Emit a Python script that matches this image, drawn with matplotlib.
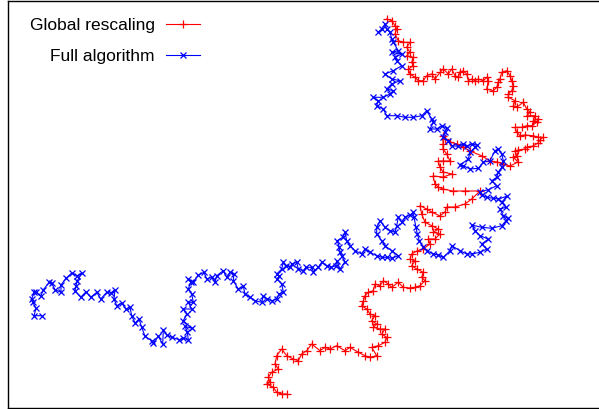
import matplotlib
matplotlib.use('Agg')
import matplotlib.pyplot as plt
import numpy as np

# Chain conformations (y grows downward)
rescaling_label = 'Global rescaling'
full_label = 'Full algorithm'

red_pts = [
    (386.7, 20), (391.7, 21.7), (395, 26.7), (396.7, 30), (395, 35), (398.3, 41.7),
    (403.3, 43.3), (410, 43.3), (406.7, 48.3), (410, 53.3), (406.7, 56.7), (413.3, 58.3),
    (411.7, 63.3), (413.3, 66.7), (408.3, 70), (410, 75), (415, 78.3), (418.3, 81.7),
    (423.3, 81.7), (426.7, 76.7), (431.7, 75), (435, 80), (440, 73.3), (443.3, 70),
    (448.3, 75), (451.7, 70), (455, 76.7), (458.3, 78.3), (460, 73.3), (463.3, 71.7),
    (466.7, 75), (468.3, 81.7), (471.7, 80), (475, 81.7), (478.3, 80), (483.3, 81.7),
    (486.7, 78.3), (488.3, 81.7), (486.7, 90), (493.3, 91.7), (496.7, 88.3), (498.3, 83.3),
    (500, 80), (501.7, 73.3), (506.7, 71.7), (510, 76.7), (511.7, 81.7), (513.3, 86.7),
    (511.7, 91.7), (508.3, 95), (508.3, 98.3), (515, 101.7), (513.3, 106.7), (516.7, 108.3),
    (523.3, 103.3), (526.7, 110), (530, 113.3), (526.7, 116.7), (535, 116.7), (533.3, 121.7),
    (538.3, 120), (536.7, 123.3), (531.7, 126.7), (526.7, 126.7), (521.7, 128.3), (515, 128.3),
    (516.7, 133.3), (520, 136.7), (525, 136), (533.3, 136.7), (538.3, 138.3), (542.7, 138.3),
    (540, 141), (538, 144), (533, 147), (527, 148), (525, 150), (518, 151),
    (515, 152), (517, 157), (513, 158), (518, 163), (510, 167), (503, 165),
    (497, 163), (490, 162), (482, 157), (470, 152), (463, 148), (457, 145),
    (450, 143), (445, 140), (443, 137), (443, 145), (443, 150), (446.7, 155),
    (450, 162), (443, 162), (438, 162), (440, 168), (443, 173), (452, 175),
    (443, 178), (433, 177), (435, 185), (438, 188), (443, 190), (453, 192),
    (465, 192), (480, 192), (471.7, 200), (465, 205), (455, 208), (446.7, 208),
    (445, 213), (440, 217), (431.7, 213), (426.7, 210), (420, 206.7), (421.7, 215),
    (425, 223.3), (431.7, 226.7), (438.3, 230), (433.3, 233.3), (440, 235), (435, 240),
    (428.3, 240), (430, 245), (423, 250), (416.7, 252), (411.7, 255), (410, 260),
    (415, 262), (411.7, 266.7), (416.7, 270), (423.3, 273.3), (421.7, 278.3), (425, 281.7),
    (420, 286.7), (415, 288.3), (410, 289), (403.3, 288.3), (398.3, 283.3), (391.7, 288.3),
    (388.3, 285), (383.3, 281.7), (380, 286.7), (375, 285), (373.3, 291.7), (368.3, 293.3),
    (365, 296.7), (363.3, 301.7), (361.7, 306.7), (366.7, 310), (370, 315), (375, 316.7),
    (371.7, 321.7), (376.7, 325), (373.3, 328.3), (380, 330), (385, 330), (381.7, 335),
    (386.7, 338.3), (385, 343.3), (378.3, 346.7), (371.7, 348.3), (376.7, 356.7), (370, 358.3),
    (365, 356.7), (358.3, 353.3), (350, 348.3), (345, 351.7), (336.7, 346.7), (330, 350),
    (325, 348.3), (320, 351.7), (311.7, 345), (306.7, 351.7), (301.7, 355), (298.3, 361.7),
    (293.3, 360), (286.7, 356.7), (281.7, 350), (276.7, 356.7), (275, 365), (278.3, 370),
    (271.7, 373.3), (268.3, 378.3), (270, 383.3), (266.7, 385), (273.3, 388.3), (276.7, 393.3),
    (281.7, 395), (286.7, 395),
]

blue_pts = [
    (41.7, 316.7), (34, 316.7), (36, 309.3), (32.7, 303.3), (31.7, 300), (34, 293.3),
    (36, 292.7), (40.7, 297.3), (43.3, 290.7), (49.3, 283.3), (51.7, 284.3), (55, 290.7),
    (61, 293.3), (61, 286), (66, 279.3), (71.7, 274), (77.3, 276.7), (81.7, 274),
    (77.3, 281.7), (76, 286.7), (75, 291.7), (80.7, 298.3), (86, 292.7), (90.7, 298.3),
    (96.7, 293.3), (100.7, 300), (106.7, 293.3), (110.7, 294), (115, 290.7), (114, 300),
    (116.7, 306.7), (121.7, 304), (126, 310), (130, 308.3), (131.7, 316.7), (135, 324),
    (139, 320), (141.7, 328.3), (145, 337.3), (151.7, 341.7), (153.3, 344), (158.3, 337.3),
    (162.7, 345), (163.3, 330.7), (166.7, 336), (171.7, 338.3), (179.3, 340.7), (183.3, 339.3),
    (188.3, 340.7), (187.3, 332.7), (185, 327.3), (191.7, 329.3), (183.3, 321.7), (186.7, 315),
    (183.3, 310), (191.7, 310), (188.3, 303.3), (193.3, 303.3), (191.7, 295), (188.3, 290),
    (190.7, 283.3), (188.3, 280), (193.3, 283.3), (198.3, 276), (204, 273.3), (206.7, 280),
    (211.7, 278.3), (215, 283.3), (216.7, 276.7), (223.3, 271.7), (226.7, 278.3), (230, 273.3),
    (234, 275), (233.3, 281.7), (238.3, 290), (243.3, 287.3), (245, 295), (250, 298.3),
    (255, 301.7), (261.7, 303.3), (263.3, 297.3), (267.3, 300), (271.7, 301.7), (276.7, 300),
    (279.3, 295), (283.3, 292.7), (281.7, 285), (277.3, 280), (279.3, 277.3), (276.7, 275),
    (281.7, 270), (283.3, 263.3), (286, 266.7), (290, 268.3), (291.7, 265), (296.7, 263.3),
    (298.3, 270), (303.3, 271.7), (306, 268.3), (311.7, 268.3), (313.3, 272.7), (318.3, 268.3),
    (321.7, 263.3), (326.7, 266.7), (330.7, 268.3), (336, 266.7), (336.7, 261.7), (340, 270),
    (345, 262.7), (341.7, 257.3), (340, 253.3), (339.3, 248.3), (337.3, 241.7), (342.7, 238.3),
    (345, 233.3), (346.7, 241.7), (350, 246.7), (355, 251.7), (361.7, 255), (365, 250),
    (370, 253.3), (376.7, 256.7), (381.7, 258.3), (386.7, 258.3), (391.7, 259.3), (398.3, 256.7),
    (391.7, 251.7), (385, 246.7), (381.7, 241.7), (376.7, 235), (376.7, 228.3), (380, 221.7),
    (385, 228.3), (390, 231.7), (395, 233.3), (396.7, 226.7), (398.3, 218.3), (401.7, 223.3),
    (405, 218.3), (410, 216), (413.3, 213.3), (414, 218.3), (416, 228.3), (417.3, 235),
    (419.3, 241.7), (423.3, 248.3), (427.3, 251.7), (433.3, 255), (438, 256), (443.3, 258.3),
    (450, 251.7), (451.7, 246.7), (460, 251.7), (466.7, 255), (471.7, 255), (480, 253.3),
    (486.7, 250), (481.7, 245), (488.3, 240), (480, 236.7), (475, 231.7), (471.7, 226),
    (481.7, 228.3), (491.7, 229.3), (501.7, 226.7), (506, 221.7), (508.3, 219.3), (503.3, 216.7),
    (500, 210), (506, 208.3), (501.7, 203.3), (506.7, 197.3), (498.3, 200), (493.3, 199.3),
    (486.7, 198.3), (481.7, 196), (480, 192.7), (488.3, 190.7), (496.7, 186.7), (491.7, 181.7),
    (496.7, 178.3), (498.3, 173.3), (501.7, 168.3), (503.3, 161.7), (501.7, 155), (498.3, 150),
    (495, 151.7), (490, 161.7), (483.3, 163.3), (478.3, 169.3), (470, 170), (463.3, 166.7),
    (460, 166), (468.3, 160), (470, 153.3), (475, 148.3), (476.7, 146), (471.7, 145),
    (466.7, 147.3), (463.3, 145), (458.3, 147.3), (451.7, 146.7), (448.3, 141.7), (443.3, 138.3),
    (445, 133.3), (446.7, 129.3), (441.7, 126.7), (436.7, 130), (430, 130), (433.3, 123.3),
    (431.7, 120), (426.7, 111.7), (421.7, 116.7), (413.3, 118.3), (405, 118.3), (396.7, 116.7),
    (386.7, 116.7), (383.3, 110), (376.7, 106.7), (378.3, 101.7), (373.3, 98.3), (383.3, 98.3),
    (390, 95), (393.3, 91.7), (386.7, 90), (391.7, 85), (400, 81.7), (391.7, 80),
    (385, 75), (393.3, 71.7), (401.7, 66.7), (396.7, 61.7), (395, 58.3), (401.7, 55),
    (391.7, 53.3), (398.3, 51.7), (393.3, 43.3), (391.7, 40), (390, 33.3), (386.7, 30),
    (385, 25), (381.7, 30), (378.3, 33.3),
]

red = np.array(red_pts)
blue = np.array(blue_pts)

plt.rcParams['font.family'] = ['Liberation Sans', 'DejaVu Sans']

fig = plt.figure(figsize=(5.99, 4.10), dpi=100)
# frame spans from x=8 px to just past the right edge, y=2..409 px
ax = fig.add_axes([8 / 599, 1 / 410, 594 / 599, 407 / 410])
ax.set_xlim(8, 602)
ax.set_ylim(409, 2)

ax.plot(red[:, 0], red[:, 1], color='red', lw=0.8, marker='+', ms=6, mew=0.9)
ax.plot(blue[:, 0], blue[:, 1], color='blue', lw=0.8, marker='x', ms=5, mew=0.9)

# gnuplot-style key: right-aligned text, sample line after it
key_rows = [(rescaling_label, 'red', '+', 6), (full_label, 'blue', 'x', 5)]
for i, (lab, col, mk, size) in enumerate(key_rows):
    yy = 25 + 31 * i
    ax.text(155, yy, lab, ha='right', va='center', fontsize=12.5)
    ax.plot([166, 200], [yy, yy], color=col, lw=0.8)
    ax.plot([183], [yy], color=col, marker=mk, ms=size, mew=0.9)

ax.set_xticks([])
ax.set_yticks([])
for s in ax.spines.values():
    s.set_linewidth(1.0)

fig.savefig('out.png', dpi=100)
